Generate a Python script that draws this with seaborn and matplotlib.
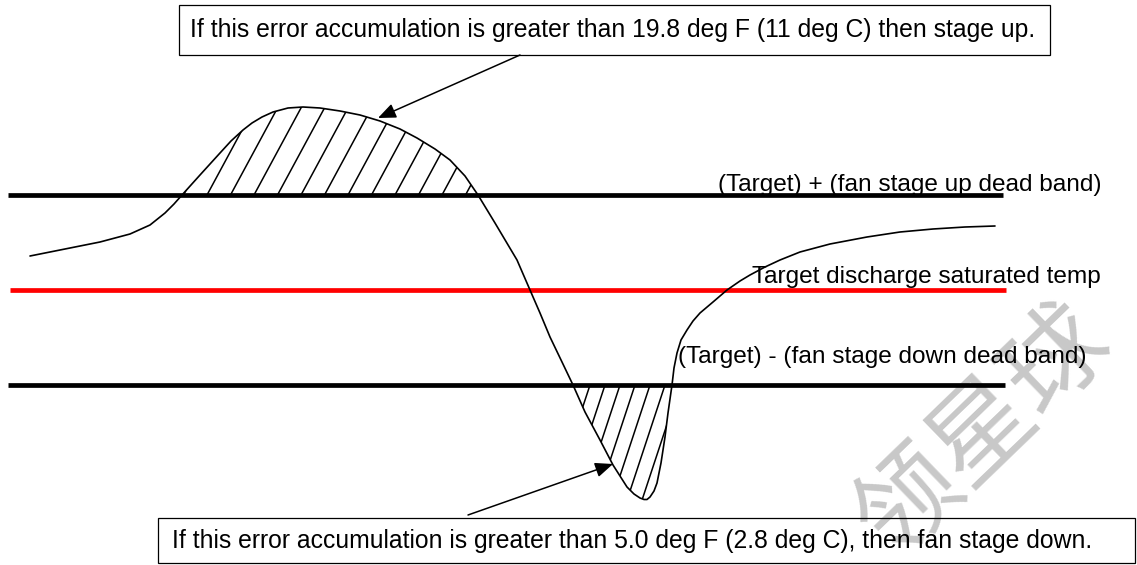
import numpy as np
import pandas as pd
import matplotlib
matplotlib.use("Agg")
import matplotlib.pyplot as plt
import seaborn as sns
from matplotlib.collections import LineCollection
from matplotlib.patches import Rectangle

# ---------------- data (diagram units: x = time, y = screen-style temperature axis, inverted) ----------------
curve_x = [30, 60, 100, 130, 150, 165, 174, 182, 191, 200, 210, 220, 231, 243, 252, 262, 273, 288,
           303, 320, 340, 360, 380, 400, 417, 435, 450, 465, 478, 495, 517, 530, 540, 550, 562, 573,
           585, 600, 613, 627, 634, 640, 644, 647, 650, 654, 657, 661, 665, 668, 672, 674, 677, 681,
           687, 693, 700, 713, 727, 740, 750, 765, 780, 800, 830, 867, 900, 933, 965, 995]
curve_y = [256, 250, 242, 234, 225, 213, 204, 195, 185, 175, 164, 153, 141, 130, 123, 117, 112, 108,
           107, 108, 111, 115, 121, 129, 138, 149, 160, 176, 195, 223, 260, 290, 313, 337, 362, 385,
           412, 440, 465, 487, 494, 498, 499.5, 499.5, 497, 491, 483, 463, 437, 413, 385, 368, 353, 340,
           330, 321, 313, 302, 290, 281, 275, 267, 260, 252, 244, 237, 232, 229, 227, 226]

upper_band = 195      # (Target) + (fan stage up dead band)
target = 290          # Target discharge saturated temp
lower_band = 385      # (Target) - (fan stage down dead band)
line_start = [8, 10, 8]
line_end = [1003, 1006, 1005]

label_up = "(Target) + (fan stage up dead band)"
label_target = "Target discharge saturated temp"
label_down = "(Target) - (fan stage down dead band)"
note_up = "If this error accumulation is greater than 19.8 deg F (11 deg C) then stage up."
note_down = "If this error accumulation is greater than 5.0 deg F (2.8 deg C), then fan stage down."
watermark = "领星球"

# ---------------- figure ----------------
sns.set_style("white")
plt.rcParams['font.family'] = ['Liberation Sans', 'Noto Sans CJK SC', 'DejaVu Sans']
plt.rcParams['text.color'] = 'black'

fig = plt.figure(figsize=(11.37, 5.65), dpi=100)
ax = fig.add_axes([0, 0, 1, 1])
ax.set_xlim(0, 1137)
ax.set_ylim(565, 0)
ax.axis("off")

# watermark (behind)
ax.text(984, 432, watermark, fontsize=74, color="#c8c8c8", rotation=44,
        ha="center", va="center", rotation_mode="anchor",
        family=['Noto Sans CJK SC', 'DejaVu Sans'], zorder=0)

# reference lines
levels = [upper_band, target, lower_band]
lcolors = ["black", "#ff0000", "black"]
for lv, x0, x1, c in zip(levels, line_start, line_end, lcolors):
    sns.lineplot(x=[x0, x1], y=[lv, lv], color=c, lw=3.4, ax=ax, estimator=None,
                 sort=False, solid_capstyle="butt", zorder=2)

# curve
cx = np.array(curve_x, float)
cy = np.array(curve_y, float)
sns.lineplot(x=cx, y=cy, color="black", lw=1.2, ax=ax, estimator=None, sort=False, zorder=3)

# hatched accumulation areas (lines clipped to region between curve and band)
def hatch_region(mask, level, slope, spacing, xlo, xhi, ylo, yhi):
    coll = ax.fill_between(cx, cy, level, where=mask, interpolate=True,
                           facecolor="none", edgecolor="none")
    path = coll.get_paths()[0]
    segs = []
    for xb in np.arange(xlo, xhi, spacing):
        segs.append([(xb + slope * (level - ylo), ylo), (xb + slope * (level - yhi), yhi)])
    lc = LineCollection(segs, colors="black", linewidths=1.1, zorder=3)
    ax.add_collection(lc)
    lc.set_clip_path(path, ax.transData)

hatch_region(cy <= upper_band, upper_band, 0.54, 23.5, 160, 480, 90, upper_band + 2)
hatch_region(cy >= lower_band, lower_band, 0.33, 15, 560, 700, lower_band - 2, 520)

# line labels
fs = 17.6
ax.text(718, 185, label_up, fontsize=fs, ha="left", va="center", zorder=4)
ax.text(752, 277, label_target, fontsize=fs, ha="left", va="center", zorder=4)
ax.text(678, 357, label_down, fontsize=fs, ha="left", va="center", zorder=4)

# note boxes
ax.add_patch(Rectangle((179, 5), 871, 50, fill=False, ec="black", lw=0.9, zorder=4))
ax.text(613, 30, note_up, fontsize=17.8, ha="center", va="center", zorder=5)
ax.add_patch(Rectangle((158, 518), 977, 45, fill=False, ec="black", lw=0.9, zorder=4))
ax.text(632, 541, note_down, fontsize=17.8, ha="center", va="center", zorder=5)

# arrows
arrow = dict(arrowstyle="-|>,head_length=0.6,head_width=0.25", mutation_scale=18,
             color="black", lw=1.1, shrinkA=0, shrinkB=0)
ax.annotate("", xy=(378, 118), xytext=(520, 55), arrowprops=arrow, zorder=5)
ax.annotate("", xy=(613, 464), xytext=(468, 515), arrowprops=arrow, zorder=5)

fig.savefig("out.png", dpi=100, facecolor="white")
